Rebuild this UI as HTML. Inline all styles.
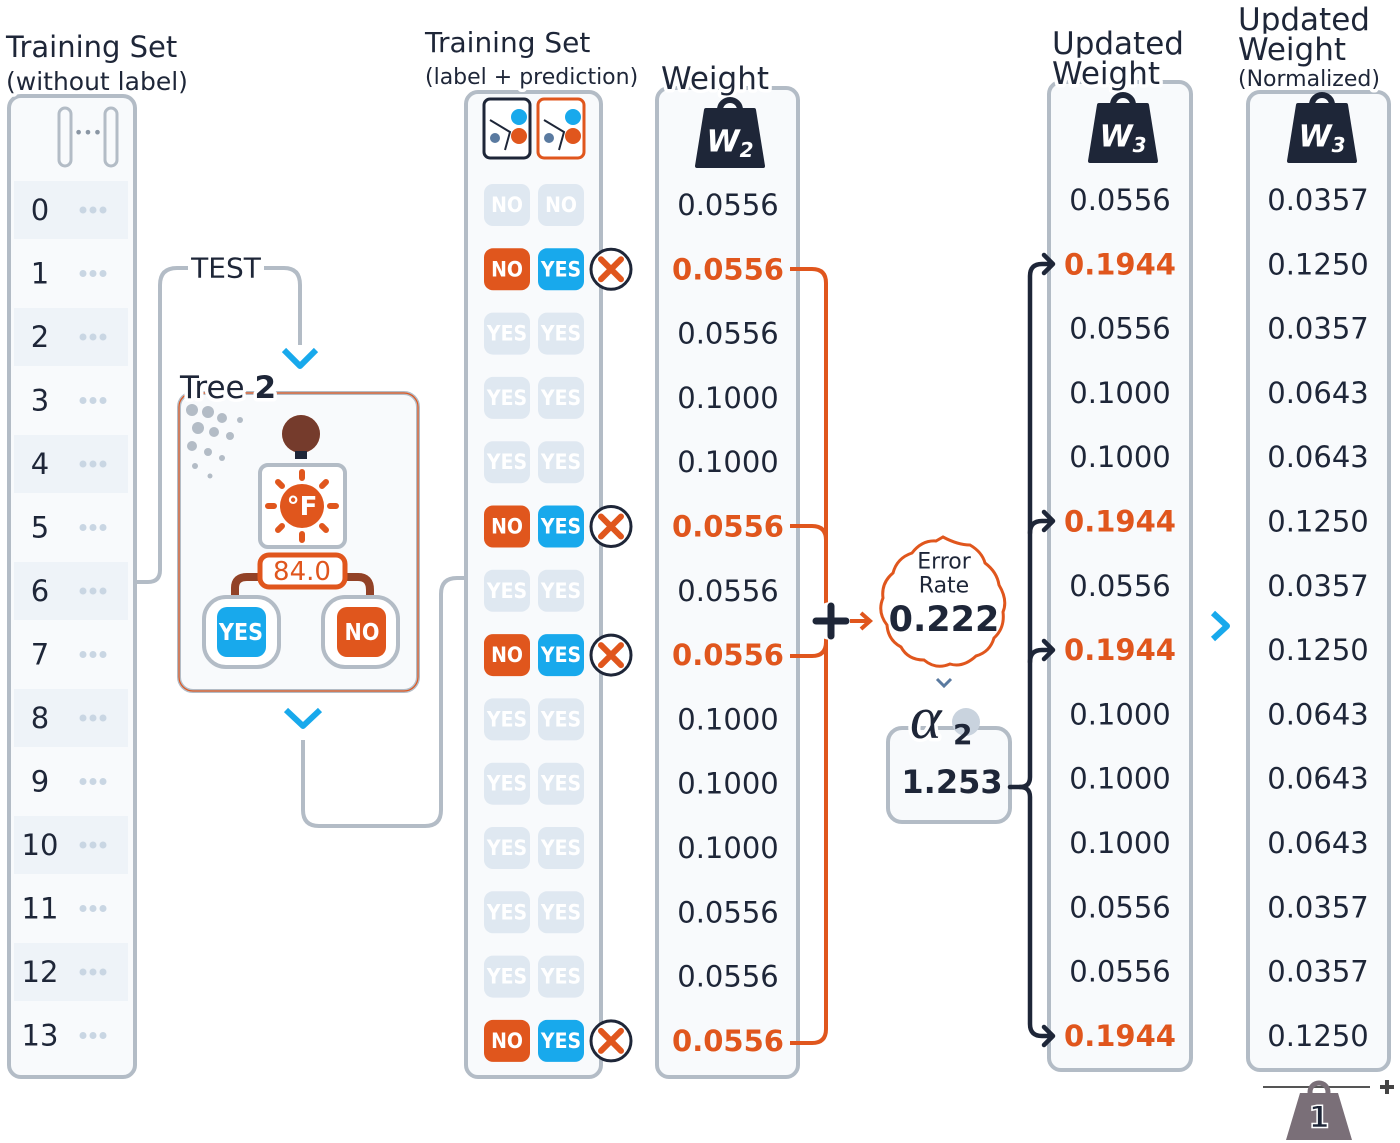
<!DOCTYPE html>
<html><head><meta charset="utf-8"><style>
html,body{margin:0;padding:0;background:#fff;}
svg{display:block;font-family:"DejaVu Sans","Liberation Sans",sans-serif;}
.n{font-size:29px;fill:#1e2638;text-anchor:middle;dominant-baseline:central;}
.o{fill:#e0561d;font-weight:bold;}
.h{font-size:29px;fill:#1e2638;paint-order:stroke;stroke:#fff;stroke-width:7px;stroke-linejoin:round;}
.p{font-size:21px;font-weight:bold;fill:#fff;text-anchor:middle;dominant-baseline:central;font-family:"DejaVu Sans Condensed","DejaVu Sans",sans-serif;}
.d{fill:#c9d6e3;}
</style></head><body>
<svg width="1400" height="1143" viewBox="0 0 1400 1143" xmlns="http://www.w3.org/2000/svg">
<defs>
<g id="pno"><rect x="0" y="-21" width="46" height="42" rx="9" fill="#e0561d"/></g>
<g id="pyes"><rect x="0" y="-21" width="46" height="42" rx="9" fill="#18a9ec"/></g>
<g id="pf"><rect x="0" y="-21" width="46" height="42" rx="9" fill="#dfe8f1"/></g>
<g id="xc"><circle cx="0" cy="0" r="20" fill="#fff" stroke="#1e2638" stroke-width="3"/><path d="M-10,-10L10,10M10,-10L-10,10" stroke="#e0561d" stroke-width="6" stroke-linecap="round"/></g>
<g id="dots"><circle cx="-10" cy="0" r="3.5" class="d"/><circle cx="0" cy="0" r="3.5" class="d"/><circle cx="10" cy="0" r="3.5" class="d"/></g>
<g id="wt"><path d="M-24,-28 L24,-28 L33,28 L-33,28 Z" fill="#1e2638" stroke="#1e2638" stroke-width="4" stroke-linejoin="round"/><path d="M-10,-28 A10,10 0 1 1 10,-28" fill="none" stroke="#1e2638" stroke-width="6"/></g>
</defs>

<!-- Column 1 -->
<rect x="9" y="96" width="126" height="981" rx="12" fill="#f8fafc" stroke="#b3bcc6" stroke-width="4"/>
<text x="6" y="57" class="h">Training Set</text>
<text x="6" y="90" class="h" style="font-size:25px">(without label)</text>
<rect x="59" y="108" width="12" height="58" rx="6" fill="none" stroke="#b3bcc6" stroke-width="3"/>
<rect x="105" y="108" width="12" height="58" rx="6" fill="none" stroke="#b3bcc6" stroke-width="3"/>
<text x="88" y="138" style="font-size:16px;fill:#8a96a4" text-anchor="middle">•••</text>
<g>
<rect x="14" y="181" width="114" height="58" fill="#eef3f8"/>
<rect x="14" y="308" width="114" height="58" fill="#eef3f8"/>
<rect x="14" y="435" width="114" height="58" fill="#eef3f8"/>
<rect x="14" y="562" width="114" height="58" fill="#eef3f8"/>
<rect x="14" y="689" width="114" height="58" fill="#eef3f8"/>
<rect x="14" y="816" width="114" height="58" fill="#eef3f8"/>
<rect x="14" y="943" width="114" height="58" fill="#eef3f8"/>
</g>
<g class="n">
<text x="40" y="210" class="n">0</text><text x="40" y="273.5" class="n">1</text><text x="40" y="337" class="n">2</text><text x="40" y="400.5" class="n">3</text><text x="40" y="464" class="n">4</text><text x="40" y="527.5" class="n">5</text><text x="40" y="591" class="n">6</text><text x="40" y="654.5" class="n">7</text><text x="40" y="718" class="n">8</text><text x="40" y="781.5" class="n">9</text><text x="40" y="845" class="n">10</text><text x="40" y="908.5" class="n">11</text><text x="40" y="972" class="n">12</text><text x="40" y="1035.5" class="n">13</text>
</g>
<use href="#dots" x="93" y="210"/><use href="#dots" x="93" y="273.5"/><use href="#dots" x="93" y="337"/><use href="#dots" x="93" y="400.5"/><use href="#dots" x="93" y="464"/><use href="#dots" x="93" y="527.5"/><use href="#dots" x="93" y="591"/><use href="#dots" x="93" y="654.5"/><use href="#dots" x="93" y="718"/><use href="#dots" x="93" y="781.5"/><use href="#dots" x="93" y="845"/><use href="#dots" x="93" y="908.5"/><use href="#dots" x="93" y="972"/><use href="#dots" x="93" y="1035.5"/>

<!-- TEST connector -->
<path d="M136,582 L148,582 Q160,582 160,570 L160,285 Q160,268 177,268 L284,268 Q300,268 300,285 L300,345" fill="none" stroke="#b3bcc6" stroke-width="4"/>
<rect x="188" y="252" width="76" height="32" fill="#fff"/>
<text x="226" y="268" style="font-size:28px;fill:#1e2638;dominant-baseline:central" text-anchor="middle">TEST</text>
<path d="M284,350 L300,366 L316,350" fill="none" stroke="#18a9ec" stroke-width="6" stroke-linejoin="round"/>

<!-- Tree box -->
<rect x="179" y="393" width="239" height="298" rx="14" fill="#f8fafc" stroke="#b3bcc6" stroke-width="4"/>
<rect x="179" y="393" width="239" height="298" rx="14" fill="none" stroke="#e0561d" stroke-width="1.2"/>
<g fill="#b3bcc6"><circle cx="192" cy="410" r="6"/><circle cx="208" cy="412" r="6"/><circle cx="222" cy="418" r="5"/><circle cx="198" cy="428" r="6"/><circle cx="214" cy="432" r="5"/><circle cx="230" cy="436" r="4"/><circle cx="192" cy="446" r="5"/><circle cx="208" cy="452" r="4"/><circle cx="222" cy="458" r="3"/><circle cx="195" cy="466" r="3"/><circle cx="210" cy="476" r="2.5"/><circle cx="240" cy="420" r="3"/></g>
<text x="180" y="398" class="h" style="font-size:31px">Tree <tspan font-weight="bold">2</tspan></text>
<circle cx="301" cy="434" r="19" fill="#e0561d"/><circle cx="301" cy="434" r="19" fill="#1e2638" opacity="0.55"/>
<rect x="295" y="451" width="12" height="8" fill="#1e2638"/>
<rect x="260" y="465" width="85" height="82" rx="8" fill="#fff" stroke="#b3bcc6" stroke-width="4"/>
<circle cx="302" cy="506" r="22" fill="#e0561d"/>
<g stroke="#e0561d" stroke-width="6" stroke-linecap="round"><path d="M302,472v6M302,534v6M268,506h6M330,506h6M278,482l4,4M326,482l-4,4M278,530l4,-4M326,530l-4,-4"/></g>
<text x="302" y="507" style="font-size:26px;font-weight:bold;fill:#fff;dominant-baseline:central" text-anchor="middle">°F</text>
<path d="M235,605 L235,588 Q235,577 247,577 L262,577 M342,577 L358,577 Q370,577 370,590 L370,605" fill="none" stroke="#e0561d" stroke-width="8"/>
<path d="M235,605 L235,588 Q235,577 247,577 L262,577 M342,577 L358,577 Q370,577 370,590 L370,605" fill="none" stroke="#1e2638" stroke-width="8" opacity="0.4"/>
<rect x="260" y="555" width="85" height="32" rx="9" fill="#fff" stroke="#e0561d" stroke-width="5"/>
<text x="302" y="572" style="font-size:26px;fill:#e0561d;dominant-baseline:central" text-anchor="middle">84.0</text>
<rect x="204" y="597" width="75" height="70" rx="22" fill="#fff" stroke="#b3bcc6" stroke-width="4"/>
<rect x="217" y="607" width="49" height="50" rx="10" fill="#18a9ec"/>
<text x="241" y="633" class="p" style="font-size:23px">YES</text>
<rect x="323" y="597" width="75" height="70" rx="22" fill="#fff" stroke="#b3bcc6" stroke-width="4"/>
<rect x="337" y="607" width="49" height="50" rx="10" fill="#e0561d"/>
<text x="362" y="633" class="p" style="font-size:23px">NO</text>
<path d="M286,710 L303,726 L320,710" fill="none" stroke="#18a9ec" stroke-width="6" stroke-linejoin="round"/>
<path d="M303,740 L303,810 Q303,826 319,826 L425,826 Q441,826 441,810 L441,594 Q441,578 457,578 L467,578" fill="none" stroke="#b3bcc6" stroke-width="4"/>

<!-- Column 2 -->
<rect x="466" y="92" width="135" height="985" rx="12" fill="#f8fafc" stroke="#b3bcc6" stroke-width="4"/>
<text x="425" y="52" class="h" style="font-size:28px">Training Set</text>
<text x="425" y="84" class="h" style="font-size:22px">(label + prediction)</text>
<rect x="484" y="99" width="46" height="59" rx="6" fill="#fff" stroke="#1e2638" stroke-width="3"/>
<rect x="538" y="99" width="46" height="59" rx="6" fill="#fff" stroke="#e0561d" stroke-width="3"/>
<g><circle cx="519" cy="117" r="8" fill="#18a9ec"/><circle cx="519" cy="136" r="8" fill="#e0561d"/><circle cx="573" cy="117" r="8" fill="#18a9ec"/><circle cx="573" cy="136" r="8" fill="#e0561d"/>
<path d="M490,120 L510,132 L505,150 M544,120 L564,132 L559,150" stroke="#1e2638" stroke-width="2" fill="none"/><circle cx="495" cy="138" r="5" fill="#5a7aa0"/><circle cx="549" cy="138" r="5" fill="#5a7aa0"/></g>

<use href="#pf" x="484" y="205"/><use href="#pf" x="538" y="205"/>
<text x="507" y="205" class="p">NO</text><text x="561" y="205" class="p">NO</text>
<use href="#pno" x="484" y="269.3"/><use href="#pyes" x="538" y="269.3"/><use href="#xc" x="611" y="269.3"/>
<text x="507" y="269.3" class="p">NO</text><text x="561" y="269.3" class="p">YES</text>
<use href="#pf" x="484" y="333.6"/><use href="#pf" x="538" y="333.6"/><text x="507" y="333.6" class="p">YES</text><text x="561" y="333.6" class="p">YES</text>
<use href="#pf" x="484" y="397.9"/><use href="#pf" x="538" y="397.9"/><text x="507" y="397.9" class="p">YES</text><text x="561" y="397.9" class="p">YES</text>
<use href="#pf" x="484" y="462.2"/><use href="#pf" x="538" y="462.2"/><text x="507" y="462.2" class="p">YES</text><text x="561" y="462.2" class="p">YES</text>
<use href="#pno" x="484" y="526.5"/><use href="#pyes" x="538" y="526.5"/><use href="#xc" x="611" y="526.5"/>
<text x="507" y="526.5" class="p">NO</text><text x="561" y="526.5" class="p">YES</text>
<use href="#pf" x="484" y="590.8"/><use href="#pf" x="538" y="590.8"/><text x="507" y="590.8" class="p">YES</text><text x="561" y="590.8" class="p">YES</text>
<use href="#pno" x="484" y="655.1"/><use href="#pyes" x="538" y="655.1"/><use href="#xc" x="611" y="655.1"/>
<text x="507" y="655.1" class="p">NO</text><text x="561" y="655.1" class="p">YES</text>
<use href="#pf" x="484" y="719.4"/><use href="#pf" x="538" y="719.4"/><text x="507" y="719.4" class="p">YES</text><text x="561" y="719.4" class="p">YES</text>
<use href="#pf" x="484" y="783.7"/><use href="#pf" x="538" y="783.7"/><text x="507" y="783.7" class="p">YES</text><text x="561" y="783.7" class="p">YES</text>
<use href="#pf" x="484" y="848"/><use href="#pf" x="538" y="848"/><text x="507" y="848" class="p">YES</text><text x="561" y="848" class="p">YES</text>
<use href="#pf" x="484" y="912.3"/><use href="#pf" x="538" y="912.3"/><text x="507" y="912.3" class="p">YES</text><text x="561" y="912.3" class="p">YES</text>
<use href="#pf" x="484" y="976.6"/><use href="#pf" x="538" y="976.6"/><text x="507" y="976.6" class="p">YES</text><text x="561" y="976.6" class="p">YES</text>
<use href="#pno" x="484" y="1040.9"/><use href="#pyes" x="538" y="1040.9"/><use href="#xc" x="611" y="1040.9"/>
<text x="507" y="1040.9" class="p">NO</text><text x="561" y="1040.9" class="p">YES</text>

<!-- Column 3 Weight -->
<rect x="657" y="88" width="141" height="989" rx="12" fill="#f8fafc" stroke="#b3bcc6" stroke-width="4"/>
<text x="661" y="89" class="h" style="font-size:31px">Weight</text>
<use href="#wt" x="730" y="138"/>
<text x="730" y="142" style="font-size:30px;font-weight:bold;font-style:italic;fill:#fff;dominant-baseline:central" text-anchor="middle">W<tspan font-size="20" dy="8">2</tspan></text>
<g>
<text x="728" y="205" class="n">0.0556</text>
<text x="728" y="269.3" class="n o">0.0556</text>
<text x="728" y="333.6" class="n">0.0556</text>
<text x="728" y="397.9" class="n">0.1000</text>
<text x="728" y="462.2" class="n">0.1000</text>
<text x="728" y="526.5" class="n o">0.0556</text>
<text x="728" y="590.8" class="n">0.0556</text>
<text x="728" y="655.1" class="n o">0.0556</text>
<text x="728" y="719.4" class="n">0.1000</text>
<text x="728" y="783.7" class="n">0.1000</text>
<text x="728" y="848" class="n">0.1000</text>
<text x="728" y="912.3" class="n">0.0556</text>
<text x="728" y="976.6" class="n">0.0556</text>
<text x="728" y="1040.9" class="n o">0.0556</text>
</g>
<g fill="none" stroke="#e0561d" stroke-width="4">
<path d="M790,269 L812,269 Q826,269 826,283 L826,1029 Q826,1043 812,1043 L790,1043"/>
<path d="M790,526 L812,526 Q826,526 826,540"/>
<path d="M790,656 L812,656 Q826,656 826,642"/>
<path d="M850,621 L868,621 M861,613 L870,621 L861,629"/>
</g>
<circle cx="831" cy="621" r="19" fill="#fff"/>
<path d="M816,621 H846 M831,606 V636" stroke="#1e2638" stroke-width="7" stroke-linecap="round"/>

<!-- Error rate badge -->
<path d="M943,537 Q958,545 970,545 Q982,552 985,563 Q997,572 999,585 Q1008,600 1003,612 Q1005,628 994,638 Q990,652 976,656 Q963,668 950,664 Q936,670 924,660 Q908,660 901,647 Q888,640 887,625 Q877,612 883,598 Q881,583 893,573 Q897,558 912,553 Q922,540 936,541 Z" fill="#fff" stroke="#e0561d" stroke-width="3"/>
<text x="944" y="562" style="font-size:22px;fill:#1e2638;dominant-baseline:central" text-anchor="middle">Error</text>
<text x="944" y="586" style="font-size:22px;fill:#1e2638;dominant-baseline:central" text-anchor="middle">Rate</text>
<text x="944" y="620" style="font-size:35px;font-weight:bold;fill:#1e2638;dominant-baseline:central" text-anchor="middle">0.222</text>
<path d="M937,679 L944,686 L951,679" fill="none" stroke="#5a7aa0" stroke-width="3"/>
<rect x="888" y="728" width="122" height="94" rx="14" fill="#f8fafc" stroke="#b3bcc6" stroke-width="4"/>
<circle cx="966" cy="722" r="14" fill="#c9d3de"/>
<text x="910" y="738" class="h" style="font-size:60px;font-style:italic;font-family:'Liberation Serif',serif">α</text>
<text x="953" y="744" style="font-size:28px;font-weight:bold;fill:#1e2638">2</text>
<text x="952" y="782" style="font-size:32px;font-weight:bold;fill:#1e2638;dominant-baseline:central" text-anchor="middle">1.253</text>

<!-- Column 4 Updated weight -->
<rect x="1049" y="82" width="142" height="988" rx="12" fill="#f8fafc" stroke="#b3bcc6" stroke-width="4"/>
<text x="1052" y="54" class="h" style="font-size:31px">Updated</text>
<text x="1052" y="84" class="h" style="font-size:31px">Weight</text>
<use href="#wt" x="1123" y="133"/>
<text x="1123" y="137" style="font-size:30px;font-weight:bold;font-style:italic;fill:#fff;dominant-baseline:central" text-anchor="middle">W<tspan font-size="20" dy="8">3</tspan></text>
<g>
<text x="1120" y="200" class="n">0.0556</text>
<text x="1120" y="264.3" class="n o">0.1944</text>
<text x="1120" y="328.6" class="n">0.0556</text>
<text x="1120" y="392.9" class="n">0.1000</text>
<text x="1120" y="457.2" class="n">0.1000</text>
<text x="1120" y="521.5" class="n o">0.1944</text>
<text x="1120" y="585.8" class="n">0.0556</text>
<text x="1120" y="650.1" class="n o">0.1944</text>
<text x="1120" y="714.4" class="n">0.1000</text>
<text x="1120" y="778.7" class="n">0.1000</text>
<text x="1120" y="843" class="n">0.1000</text>
<text x="1120" y="907.3" class="n">0.0556</text>
<text x="1120" y="971.6" class="n">0.0556</text>
<text x="1120" y="1035.9" class="n o">0.1944</text>
</g>

<!-- dark connectors (drawn over column 4 edge) -->
<g fill="none" stroke="#1e2638" stroke-width="4.5" stroke-linecap="round" stroke-linejoin="round">
<path d="M1010,787 L1020,787 Q1030,787 1030,777 L1030,276 Q1030,264 1042,264 L1052,264 M1044,255 L1053,264 L1044,273"/>
<path d="M1030,533 Q1030,521 1042,521 L1052,521 M1044,512 L1053,521 L1044,530"/>
<path d="M1030,662 Q1030,650 1042,650 L1052,650 M1044,641 L1053,650 L1044,659"/>
<path d="M1020,787 Q1030,787 1030,797 L1030,1024 Q1030,1036 1042,1036 L1052,1036 M1044,1027 L1053,1036 L1044,1045"/>
</g>

<path d="M1213,613 L1227,626 L1213,639" fill="none" stroke="#18a9ec" stroke-width="6" stroke-linejoin="round"/>

<!-- Column 5 normalized -->
<rect x="1248" y="92" width="141" height="978" rx="12" fill="#f8fafc" stroke="#b3bcc6" stroke-width="4"/>
<text x="1238" y="30" class="h" style="font-size:31px">Updated</text>
<text x="1238" y="60" class="h" style="font-size:31px">Weight</text>
<text x="1238" y="86" class="h" style="font-size:22px">(Normalized)</text>
<use href="#wt" x="1322" y="133"/>
<text x="1322" y="137" style="font-size:30px;font-weight:bold;font-style:italic;fill:#fff;dominant-baseline:central" text-anchor="middle">W<tspan font-size="20" dy="8">3</tspan></text>
<g>
<text x="1318" y="200" class="n">0.0357</text>
<text x="1318" y="264.3" class="n">0.1250</text>
<text x="1318" y="328.6" class="n">0.0357</text>
<text x="1318" y="392.9" class="n">0.0643</text>
<text x="1318" y="457.2" class="n">0.0643</text>
<text x="1318" y="521.5" class="n">0.1250</text>
<text x="1318" y="585.8" class="n">0.0357</text>
<text x="1318" y="650.1" class="n">0.1250</text>
<text x="1318" y="714.4" class="n">0.0643</text>
<text x="1318" y="778.7" class="n">0.0643</text>
<text x="1318" y="843" class="n">0.0643</text>
<text x="1318" y="907.3" class="n">0.0357</text>
<text x="1318" y="971.6" class="n">0.0357</text>
<text x="1318" y="1035.9" class="n">0.1250</text>
</g>
<line x1="1263" y1="1087" x2="1370" y2="1087" stroke="#555" stroke-width="2"/>
<path d="M1380,1087 H1394 M1387,1080 V1094" stroke="#444" stroke-width="4"/>
<path d="M1300,1093 L1338,1093 L1352,1140 L1286,1140 Z" fill="#7a6f78"/>
<circle cx="1319" cy="1092" r="9" fill="none" stroke="#7a6f78" stroke-width="5"/>
<text x="1319" y="1118" style="font-size:30px;font-weight:bold;fill:#1e2638;stroke:#fff;stroke-width:1.5;dominant-baseline:central" text-anchor="middle">1</text>
</svg>
</body></html>
